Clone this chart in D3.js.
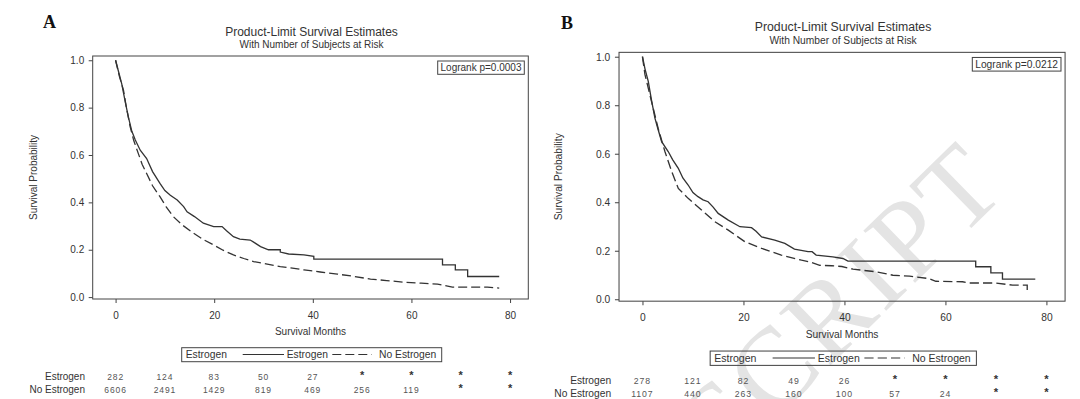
<!DOCTYPE html>
<html>
<head>
<meta charset="utf-8">
<script src="https://cdnjs.cloudflare.com/ajax/libs/d3/7.8.5/d3.min.js"></script>
<style>
body { margin: 0; background: #fff; }
svg text { font-family: "Liberation Sans", Arial, sans-serif; fill: #333; }
.axis text { font-size: 10px; fill: #333; }
.axis line { stroke: #444; }
.kmline { fill: none; stroke: #333; stroke-width: 1.3; }
.risknum { font-size: 8.5px; fill: #555; letter-spacing: 0.9px; }
.panelletter { font-family: "Liberation Serif", "Times New Roman", serif; font-weight: bold; font-size: 18px; fill: #111; }
.watermark { font-family: "Liberation Serif", "Times New Roman", serif; font-size: 112px; fill: #e4e4e4; letter-spacing: 3px; }
</style>
</head>
<body>
<svg id="chart" width="1080" height="399"></svg>
<script>
// DATA
var xTicks = [0, 20, 40, 60, 80];
var yTicks = [0, 0.2, 0.4, 0.6, 0.8, 1.0];
var riskTimes = [0, 10, 20, 30, 40, 50, 60, 70, 80];
var groupNames = ["Estrogen", "No Estrogen"];
var pValues = ["0.0003", "0.0212"];

// [month, survival] - panel A
var kmEstrogenA = [[0,1.0],[0.5,0.96],[1.25,0.90],[2,0.82],[2.6,0.76],[3.3,0.70],[4,0.663],[5,0.62],[6.3,0.585],
  [7.5,0.53],[9,0.48],[10,0.45],[11.1,0.43],[12.5,0.41],[13.8,0.382],[14.5,0.36],[16,0.34],[17.8,0.312],
  [19.9,0.298],[21.6,0.298],[22.5,0.28],[23.9,0.255],[25.2,0.245],[27.3,0.241],[28,0.232],[29.4,0.213],
  [31,0.2],[33.4,0.2],[33.4,0.19],[35.1,0.182],[38.2,0.178],[40.2,0.172],[40.2,0.16],[66.3,0.16],
  [66.3,0.136],[68.9,0.136],[68.9,0.115],[71.4,0.115],[71.4,0.087],[77.8,0.087]];
var kmNoEstrogenA = [[0,1.0],[0.8,0.93],[1.6,0.874],[2.2,0.8],[2.95,0.72],[3.7,0.66],[4.6,0.607],[5.4,0.56],
  [6.3,0.522],[7.5,0.47],[9,0.424],[10.3,0.38],[11.7,0.34],[13.5,0.305],[15.8,0.27],[17.8,0.243],[19.9,0.22],
  [21.8,0.198],[23.9,0.178],[26,0.163],[28,0.15],[30.5,0.14],[33.4,0.129],[35.5,0.123],[38.2,0.115],
  [41.5,0.106],[45,0.097],[48.5,0.087],[51.7,0.076],[55,0.07],[58.5,0.063],[62,0.059],[65.3,0.055],
  [66.5,0.05],[68.3,0.042],[75.4,0.042],[77.8,0.038]];

// [month, survival] - panel B
var kmEstrogenB = [[0,1.0],[0.5,0.95],[1.15,0.898],[1.8,0.82],[2.47,0.747],[3.1,0.70],[3.8,0.65],[5.1,0.609],
  [6,0.575],[7.1,0.54],[8,0.50],[9.05,0.471],[10,0.44],[11,0.423],[12,0.41],[13,0.402],[14,0.38],[15,0.354],
  [17,0.326],[19.3,0.299],[21.6,0.295],[22.5,0.28],[23.6,0.257],[26.2,0.244],[28.2,0.23],[30.1,0.207],
  [32.8,0.196],[33.6,0.196],[34.4,0.182],[37.7,0.175],[39.7,0.168],[40.7,0.157],[66,0.157],[66,0.134],
  [69,0.134],[69,0.109],[71.3,0.109],[71.3,0.083],[77.8,0.083]];
var kmNoEstrogenB = [[0,1.0],[0.5,0.926],[1.8,0.815],[3.1,0.705],[4.45,0.609],[5.8,0.526],[7.1,0.457],
  [9.05,0.416],[11.7,0.368],[14.3,0.32],[17,0.285],[20.3,0.237],[23.6,0.21],[27.5,0.182],[31.5,0.161],
  [33.1,0.154],[35.1,0.14],[37.5,0.138],[39.5,0.135],[41.7,0.124],[46.3,0.113],[49.6,0.099],[52.9,0.095],
  [56.8,0.085],[58.1,0.074],[63.4,0.072],[64.7,0.067],[70,0.067],[73.3,0.058],[76.2,0.058],[76.2,0.037],
  [76.9,0.037]];

// number at risk ("*" where SAS hides it)
var riskEstrogenA = ["282","124","83","50","27","*","*","*","*"];
var riskNoEstrogenA = ["6606","2491","1429","819","469","256","119","*","*"];
var riskEstrogenB = ["278","121","82","49","26","*","*","*","*"];
var riskNoEstrogenB = ["1107","440","263","160","100","57","24","*","*"];


// DRAWING AREA (panel A coordinates, panel B is the same layout a bit bigger)
var plotLeft = 92.7, plotRight = 528.3, plotTop = 56, plotBottom = 299;
var midX = (plotLeft + plotRight) / 2;

var svg = d3.select("#chart");

// watermark on panel B, behind everything
svg.append("text")
  .attr("class", "watermark")
  .attr("text-anchor", "end")
  .attr("transform", "translate(1010,190) rotate(-44.3)")
  .text("ACCEPTED MANUSCRIPT");

svg.append("text").attr("class", "panelletter").attr("x", 43).attr("y", 28).text("A");
svg.append("text").attr("class", "panelletter").attr("x", 561).attr("y", 29).text("B");

var x = d3.scaleLinear().domain([-4.64, 83.7]).range([plotLeft, plotRight]);
var y = d3.scaleLinear().domain([-0.008, 1.018]).range([plotBottom, plotTop]);

var line = d3.line()
  .x(function(d) { return x(d[0]); })
  .y(function(d) { return y(d[1]); });

function drawPanel(g, km1, km2, risk1, risk2, pval) {

  // TITLES
  g.append("text").attr("x", midX + 1).attr("y", 35.5)
    .attr("text-anchor", "middle").style("font-size", "12px")
    .text("Product-Limit Survival Estimates");
  g.append("text").attr("x", midX + 1).attr("y", 47.8)
    .attr("text-anchor", "middle").style("font-size", "10px")
    .text("With Number of Subjects at Risk");

  // AXES
  g.append("g").attr("class", "axis")
    .attr("transform", "translate(" + plotLeft + ",0)")
    .call(d3.axisLeft(y).tickValues(yTicks).tickFormat(d3.format(".1f"))
      .tickSize(4).tickPadding(4.5).tickSizeOuter(0))
    .select(".domain").remove();

  g.append("g").attr("class", "axis")
    .attr("transform", "translate(0," + plotBottom + ")")
    .call(d3.axisBottom(x).tickValues(xTicks).tickSize(4).tickPadding(8.5).tickSizeOuter(0))
    .select(".domain").remove();

  g.append("rect")
    .attr("x", plotLeft).attr("y", plotTop)
    .attr("width", plotRight - plotLeft).attr("height", plotBottom - plotTop)
    .attr("fill", "none").attr("stroke", "#444").attr("stroke-width", 1);

  g.append("text")
    .attr("transform", "translate(33.3," + (plotTop + plotBottom) / 2 + ") rotate(-90)")
    .attr("text-anchor", "middle").attr("dy", "0.35em").style("font-size", "10px")
    .text("Survival Probability");

  g.append("text").attr("x", midX).attr("y", 335.3)
    .attr("text-anchor", "middle").style("font-size", "10px")
    .text("Survival Months");

  // CURVES
  g.append("path").datum(km2).attr("class", "kmline")
    .attr("stroke-dasharray", "9,4").attr("d", line);
  g.append("path").datum(km1).attr("class", "kmline").attr("d", line);

  // LOGRANK BOX
  g.append("rect").attr("x", 437.7).attr("y", 61).attr("width", 86.6).attr("height", 13.3)
    .attr("fill", "#fff").attr("stroke", "#444");
  g.append("text").attr("x", 437.7 + 43.3).attr("y", 71.3)
    .attr("text-anchor", "middle").style("font-size", "10px")
    .text("Logrank p=" + pval);

  // LEGEND
  var lg = g.append("g").attr("transform", "translate(181.7,347.7)");
  lg.append("rect").attr("width", 260).attr("height", 14)
    .attr("fill", "none").attr("stroke", "#444");
  lg.append("text").attr("x", 4).attr("y", 10.5).style("font-size", "10.3px").text(groupNames[0]);
  lg.append("line").attr("x1", 61).attr("x2", 102.3).attr("y1", 6.8).attr("y2", 6.8)
    .attr("stroke", "#333").attr("stroke-width", 1.2);
  lg.append("text").attr("x", 105).attr("y", 10.5).style("font-size", "10.3px").text(groupNames[0]);
  lg.append("line").attr("x1", 150.6).attr("x2", 190).attr("y1", 6.8).attr("y2", 6.8)
    .attr("stroke", "#333").attr("stroke-width", 1.2).attr("stroke-dasharray", "9,4");
  lg.append("text").attr("x", 197.3).attr("y", 10.5).style("font-size", "10.3px").text(groupNames[1]);

  // NUMBER AT RISK
  var rows = [risk1, risk2];
  var rowY = [379.5, 392.6];
  rows.forEach(function(r, i) {
    g.append("text").attr("x", 85).attr("y", rowY[i])
      .attr("text-anchor", "end").style("font-size", "10px")
      .text(groupNames[i]);
    g.selectAll(".risk" + i)
      .data(r)
      .enter()
      .append("text")
      .attr("class", function(d) { return d == "*" ? "risk" + i : "risk" + i + " risknum"; })
      .attr("x", function(d, j) { return x(riskTimes[j]); })
      .attr("y", function(d) { return d == "*" ? rowY[i] - 1 : rowY[i]; })
      .attr("text-anchor", "middle")
      .style("font-size", function(d) { return d == "*" ? "11px" : null; })
      .style("font-weight", function(d) { return d == "*" ? "bold" : null; })
      .text(function(d) { return d; });
  });
}

drawPanel(svg.append("g"), kmEstrogenA, kmNoEstrogenA, riskEstrogenA, riskNoEstrogenA, pValues[0]);
drawPanel(svg.append("g").attr("transform", "translate(524.1,-5) scale(1.024)"),
  kmEstrogenB, kmNoEstrogenB, riskEstrogenB, riskNoEstrogenB, pValues[1]);
</script>
</body>
</html>
